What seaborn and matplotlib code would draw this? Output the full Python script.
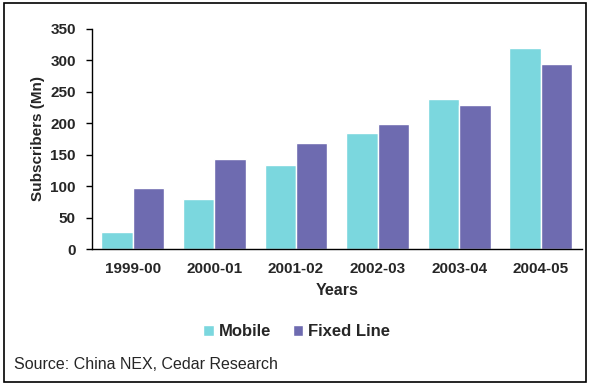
import pandas as pd
import seaborn as sns
import matplotlib.pyplot as plt
from matplotlib.patches import Rectangle

# data
years = ["1999-00", "2000-01", "2001-02", "2002-03", "2003-04", "2004-05"]
mobile = [27, 80, 134, 184, 239, 320]
fixed_line = [97, 143, 168, 199, 229, 294]

df = pd.DataFrame({
    "Years": years * 2,
    "Subscribers": mobile + fixed_line,
    "Type": ["Mobile"] * len(years) + ["Fixed Line"] * len(years),
})

sns.set_style("white")
plt.rcParams["font.family"] = ["Liberation Sans", "DejaVu Sans"]

fig = plt.figure(figsize=(5.93, 3.85), dpi=100)
ax = fig.add_axes([0.155, 0.353, 0.826, 0.572])

palette = {"Mobile": "#7BD7DE", "Fixed Line": "#6E6BB0"}
sns.barplot(data=df, x="Years", y="Subscribers", hue="Type", palette=palette,
            width=0.77, saturation=1, ax=ax, legend=True)

ax.set_ylim(0, 350)
ax.set_yticks(range(0, 351, 50))
ax.set_xlim(-0.5, len(years) - 0.5)
sns.despine(ax=ax)
for s in ["left", "bottom"]:
    ax.spines[s].set_color("black")
    ax.spines[s].set_linewidth(1)

# ticks between categories on the x axis
ax.set_xticks([i - 0.5 for i in range(len(years) + 1)], minor=True)
ax.tick_params(axis="x", which="major", length=0, pad=9)
ax.tick_params(axis="x", which="minor", length=4.5, width=1, color="black", direction="out")
ax.tick_params(axis="y", length=4.5, width=1, color="black", direction="out", left=True, pad=7)
ax.tick_params(axis="both", labelsize=11)
for lbl in ax.get_xticklabels() + ax.get_yticklabels():
    lbl.set_fontweight("bold")

ax.set_xlabel("Years", fontsize=11.5, fontweight="bold", labelpad=5)
ax.set_ylabel("Subscribers (Mn)", fontsize=11, fontweight="bold", labelpad=4)

handles, labels = ax.get_legend_handles_labels()
ax.legend(handles, labels, loc="center", bbox_to_anchor=(0.5, 0.138),
          bbox_transform=fig.transFigure, ncol=2, frameon=False,
          handlelength=0.65, handleheight=0.65, handletextpad=0.25, columnspacing=1.3,
          prop={"weight": "bold", "size": 12})

fig.text(0.024, 0.052, "Source: China NEX, Cedar Research", fontsize=11.5, va="center")

# outer frame
fig.patches.append(Rectangle((0.007, 0.008), 0.982, 0.984, transform=fig.transFigure,
                             fill=False, edgecolor="black", linewidth=1.2))

fig.savefig("out.png", dpi=100)
